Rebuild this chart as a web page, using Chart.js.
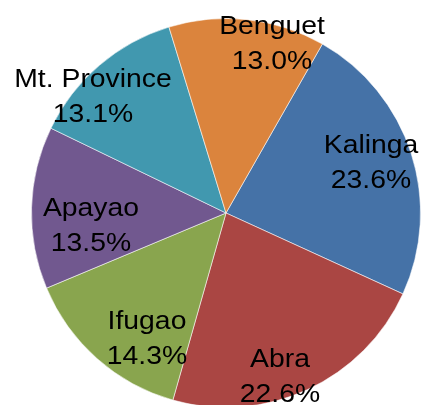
<!DOCTYPE html>
<html>
<head>
<meta charset="utf-8">
<script src="https://cdn.jsdelivr.net/npm/chart.js@4/dist/chart.umd.min.js"></script>
<style>
  html, body { margin: 0; padding: 0; background: #fff; overflow: hidden; }
  #wrap { position: relative; width: 421px; height: 430px; }
</style>
</head>
<body>
<div id="wrap"><canvas id="pie" width="421" height="430"></canvas></div>
<script>
// data
const provinces = ['Kalinga', 'Abra', 'Ifugao', 'Apayao', 'Mt. Province', 'Benguet'];
const shares = [23.6, 22.6, 14.3, 13.5, 13.1, 13.0];
const sliceColors = ['#4572A7', '#AA4643', '#89A54E', '#71588F', '#4198AF', '#DB843D'];

// label placement: text centre x / first baseline, relative to pie centre (px)
const labelOffsets = [[145, -60], [54, 154], [-79, 116], [-135, 3], [-133, -126], [46, -179]];
const lineGap = 34.5;

const insideLabels = {
    id: 'insideLabels',
    afterDatasetsDraw(chart) {
        const ctx = chart.ctx;
        const arc = chart.getDatasetMeta(0).data[0];
        const cx = arc.x, cy = arc.y;
        ctx.save();
        ctx.fillStyle = '#000';
        ctx.font = '26px "Liberation Sans", Arial, sans-serif';
        ctx.textAlign = 'center';
        ctx.textBaseline = 'alphabetic';
        const put = (txt, x, y) => {
            ctx.save();
            ctx.translate(x, y);
            ctx.scale(1.09, 1);
            ctx.fillText(txt, 0, 0);
            ctx.restore();
        };
        provinces.forEach((name, i) => {
            const [ox, oy] = labelOffsets[i];
            put(name, cx + ox, cy + oy);
            put(shares[i].toFixed(1) + '%', cx + ox, cy + oy + lineGap);
        });
        ctx.restore();
    }
};

new Chart(document.getElementById('pie').getContext('2d'), {
    type: 'pie',
    data: {
        labels: provinces,
        datasets: [{
            data: shares,
            backgroundColor: sliceColors,
            borderColor: 'rgba(255,255,255,0.55)',
            borderWidth: 1
        }]
    },
    options: {
        responsive: false,
        animation: false,
        rotation: 29.7,
        layout: { padding: { left: 31, right: 0, top: 18, bottom: 22 } },
        plugins: {
            legend: { display: false },
            tooltip: { enabled: false }
        }
    },
    plugins: [insideLabels]
});
</script>
</body>
</html>
